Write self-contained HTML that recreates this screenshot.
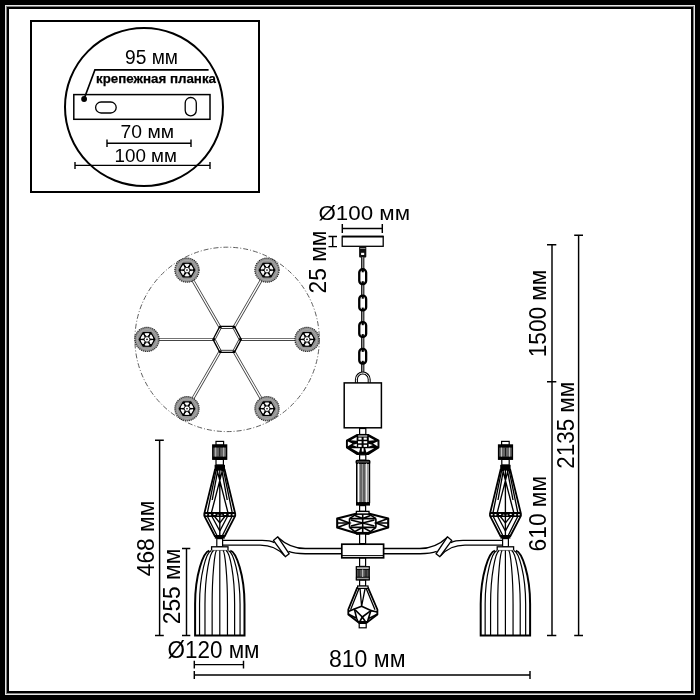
<!DOCTYPE html>
<html><head><meta charset="utf-8">
<style>
html,body{margin:0;padding:0;background:#fff;width:700px;height:700px;overflow:hidden}
svg{display:block;will-change:transform}
text{font-family:"Liberation Sans",sans-serif;fill:#000}
</style></head>
<body>
<svg width="700" height="700" viewBox="0 0 700 700">
<!-- frame -->
<rect x="0" y="0" width="700" height="700" fill="#000"/>
<rect x="5" y="5" width="690" height="690" fill="#e6e6e6"/>
<rect x="6" y="6" width="688" height="688" fill="#808080"/>
<rect x="7" y="7" width="686" height="686" fill="#000"/>
<rect x="9" y="9" width="682" height="682" fill="#fff"/>

<!-- inset box -->
<g id="inset">
<rect x="31" y="21" width="228" height="171" fill="none" stroke="#000" stroke-width="2"/>
<circle cx="144" cy="107" r="79" fill="none" stroke="#000" stroke-width="2"/>
<text x="125" y="63.6" font-size="19.5" textLength="53" lengthAdjust="spacingAndGlyphs">95 мм</text>
<polyline points="84,99.1 94.9,69.9 208.6,69.9" fill="none" stroke="#000" stroke-width="1.6"/>
<circle cx="84.1" cy="99" r="2.9" fill="#000"/>
<text x="96" y="83" font-size="13.5" font-weight="bold" stroke="#000" stroke-width="0.25" textLength="120" lengthAdjust="spacingAndGlyphs">крепежная планка</text>
<rect x="73.8" y="94.6" width="136.2" height="24.7" fill="none" stroke="#000" stroke-width="1.5"/>
<rect x="95.6" y="102" width="20.6" height="11" rx="5.5" fill="none" stroke="#000" stroke-width="1.3"/>
<rect x="185.2" y="97.5" width="11.1" height="18.3" rx="5.5" fill="none" stroke="#000" stroke-width="1.3"/>
<text x="120.5" y="137.9" font-size="19" textLength="53.5" lengthAdjust="spacingAndGlyphs">70 мм</text>
<path d="M107,143.3H191M107,139.6V147.1M191,139.6V147.1" stroke="#000" stroke-width="1.4" fill="none"/>
<text x="114.5" y="161.7" font-size="19" textLength="62.5" lengthAdjust="spacingAndGlyphs">100 мм</text>
<path d="M75,165.4H210M75,162V169M210,162V169" stroke="#000" stroke-width="1.4" fill="none"/>
</g>

<!-- plan view -->
<g id="plan">
<defs><g id="ros"><circle cx="0" cy="0" r="12.1" fill="#929292" stroke="#222" stroke-width="1.2" stroke-dasharray="1.1 0.9"/><circle cx="0" cy="0" r="9.8" fill="none" stroke="#aaa" stroke-width="0.9"/><polygon points="7.80,-0.00 3.90,-6.75 -3.90,-6.75 -7.80,-0.00 -3.90,6.75 3.90,6.75" fill="#000" stroke="#000" stroke-width="1.2" stroke-linejoin="round"/><polygon points="5.91,-1.04 5.02,-2.90 3.86,-4.60 2.60,-1.50" fill="#fff" stroke="#fff" stroke-width="0.9" stroke-linejoin="round"/><polygon points="2.05,-5.64 0.00,-5.80 -2.05,-5.64 0.00,-3.00" fill="#fff" stroke="#fff" stroke-width="0.9" stroke-linejoin="round"/><polygon points="-3.86,-4.60 -5.02,-2.90 -5.91,-1.04 -2.60,-1.50" fill="#fff" stroke="#fff" stroke-width="0.9" stroke-linejoin="round"/><polygon points="-5.91,1.04 -5.02,2.90 -3.86,4.60 -2.60,1.50" fill="#fff" stroke="#fff" stroke-width="0.9" stroke-linejoin="round"/><polygon points="-2.05,5.64 -0.00,5.80 2.05,5.64 -0.00,3.00" fill="#fff" stroke="#fff" stroke-width="0.9" stroke-linejoin="round"/><polygon points="3.86,4.60 5.02,2.90 5.91,1.04 2.60,1.50" fill="#fff" stroke="#fff" stroke-width="0.9" stroke-linejoin="round"/><circle cx="0" cy="0" r="2.8" fill="#fff" stroke="#000" stroke-width="0.8"/><circle cx="0" cy="0" r="0.8" fill="#000"/></g></defs>
<circle cx="227.1" cy="339.4" r="92.2" fill="none" stroke="#555" stroke-width="0.95" stroke-dasharray="5 2 1 2"/>
<path d="M241.00,339.40L296.00,339.40M234.00,327.28L261.50,279.64M220.00,327.28L192.50,279.64M213.00,339.40L158.00,339.40M220.00,351.52L192.50,399.16M234.00,351.52L261.50,399.16" stroke="#444" stroke-width="3.0" fill="none"/>
<path d="M241.00,339.40L296.00,339.40M234.00,327.28L261.50,279.64M220.00,327.28L192.50,279.64M213.00,339.40L158.00,339.40M220.00,351.52L192.50,399.16M234.00,351.52L261.50,399.16" stroke="#fff" stroke-width="1.3" fill="none"/>
<polygon points="241.20,339.40 234.40,326.40 219.80,326.40 213.00,339.40 219.80,352.40 234.40,352.40" fill="#fff" stroke="#000" stroke-width="1.3"/>
<polygon points="238.94,339.40 233.23,328.48 220.97,328.48 215.26,339.40 220.97,350.32 233.23,350.32" fill="#fff" stroke="#222" stroke-width="0.9"/>
<circle cx="240.21" cy="339.40" r="1.3" fill="#000"/>
<circle cx="233.89" cy="327.31" r="1.3" fill="#000"/>
<circle cx="220.31" cy="327.31" r="1.3" fill="#000"/>
<circle cx="213.99" cy="339.40" r="1.3" fill="#000"/>
<circle cx="220.31" cy="351.49" r="1.3" fill="#000"/>
<circle cx="233.89" cy="351.49" r="1.3" fill="#000"/>
<use href="#ros" transform="translate(307.00,339.40)"/>
<use href="#ros" transform="translate(267.00,270.12)"/>
<use href="#ros" transform="translate(187.00,270.12)"/>
<use href="#ros" transform="translate(147.00,339.40)"/>
<use href="#ros" transform="translate(187.00,408.68)"/>
<use href="#ros" transform="translate(267.00,408.68)"/>
</g>

<!-- central column -->
<g id="column" stroke="#000" fill="#fff">
<!-- canopy -->
<rect x="342.2" y="236.4" width="41" height="9.9" stroke-width="1.3"/>
<line x1="342" y1="236.7" x2="383.4" y2="236.7" stroke-width="1.8"/>
<!-- connector -->
<rect x="359.1" y="246.6" width="7.2" height="10.9" rx="1" fill="#111" stroke="none"/>
<rect x="361.1" y="252.8" width="3.1" height="2.2" fill="#fff" stroke="none"/>
<rect x="360.2" y="248" width="5.2" height="1" fill="#888" stroke="none"/>
<!-- chain rod -->
<line x1="362.7" y1="257" x2="362.7" y2="374" stroke="#222" stroke-width="3.4"/>
<line x1="362.7" y1="257" x2="362.7" y2="374" stroke="#999" stroke-width="1.2"/>
<!-- links -->
<g stroke-width="2.3">
<rect x="359.25" y="269.25" width="6.9" height="14.8" rx="3.3"/>
<rect x="359.25" y="295.65" width="6.9" height="14.8" rx="3.3"/>
<rect x="359.25" y="322.15" width="6.9" height="14.8" rx="3.3"/>
<rect x="359.25" y="348.85" width="6.9" height="14.8" rx="3.3"/>
</g>
<g fill="#000" stroke="none">
<rect x="361.7" y="269.70" width="2.1" height="2.6"/><rect x="361.7" y="281.20" width="2.1" height="2.6"/>
<rect x="361.7" y="296.10" width="2.1" height="2.6"/><rect x="361.7" y="307.60" width="2.1" height="2.6"/>
<rect x="361.7" y="322.60" width="2.1" height="2.6"/><rect x="361.7" y="334.10" width="2.1" height="2.6"/>
<rect x="361.7" y="349.30" width="2.1" height="2.6"/><rect x="361.7" y="360.80" width="2.1" height="2.6"/>
</g>
<!-- ring -->
<path d="M356.4,383V379.4A6.4,6.4 0 0 1 369.2,379.4V383" fill="none" stroke="#000" stroke-width="3"/>
<path d="M356.4,383V379.4A6.4,6.4 0 0 1 369.2,379.4V383" fill="none" stroke="#fff" stroke-width="1"/>
<!-- top rect -->
<rect x="344.2" y="382.9" width="37.2" height="44.9" stroke-width="1.5"/>
<!-- rod -->
<rect x="359.6" y="428.5" width="6.2" height="6" stroke-width="1.2"/>
<!-- crystal 1 -->
<polygon points="357.2,434.6 368.2,434.6 378.8,440.4 378.8,447.6 368.2,454.4 357.2,454.4 346.6,447.6 346.6,440.4" fill="#000" stroke-width="1.3" stroke-linejoin="round"/>
<g fill="#fff" stroke="none">
<rect x="358.4" y="437.6" width="3.2" height="2.1"/><rect x="363.6" y="437.6" width="3.2" height="2.1"/>
<rect x="358" y="441.2" width="3.6" height="2.1"/><rect x="363.6" y="441.2" width="3.6" height="2.1"/>
<rect x="358.2" y="444.8" width="3.4" height="2.1"/><rect x="363.6" y="444.8" width="3.4" height="2.1"/>
<polygon points="350.8,440.2 356.6,437 356.6,440.8"/><polygon points="374.6,440.2 368.8,437 368.8,440.8"/>
<polygon points="347.9,441.4 352.4,443.6 347.9,446.2"/><polygon points="377.5,441.4 373,443.6 377.5,446.2"/>
<polygon points="352.6,445 356.8,443.8 356.8,446.8"/><polygon points="372.8,445 368.6,443.8 368.6,446.8"/>
<polygon points="351.2,448.2 360.2,448.2 359,452.6"/><polygon points="374.2,448.2 365.2,448.2 366.4,452.6"/><rect x="361.8" y="448.2" width="1.8" height="3.4"/>
<rect x="358.2" y="435.5" width="9" height="1"/>
</g>
<!-- rod -->
<rect x="359.6" y="454.8" width="6.2" height="5.4" stroke-width="1.2"/>
<!-- tube -->
<rect x="356.3" y="460.4" width="13.4" height="3" rx="0.8" fill="#555" stroke="#000" stroke-width="1.5"/>
<rect x="356.6" y="463.4" width="13" height="39.2" fill="#9a9a9a" stroke="#000" stroke-width="1.2"/>
<g stroke-width="1" fill="none">
<line x1="358.5" y1="463.5" x2="358.5" y2="502.5" stroke="#fff"/>
<line x1="361" y1="463.5" x2="361" y2="502.5" stroke="#333"/>
<line x1="364" y1="463.5" x2="364" y2="502.5" stroke="#222"/>
<line x1="366.5" y1="463.5" x2="366.5" y2="502.5" stroke="#eee"/>
</g>
<rect x="356" y="502.4" width="14" height="3.2" fill="#000" stroke="none"/>
<!-- rod -->
<rect x="359.6" y="505.6" width="6" height="5.8" stroke-width="1.2"/>
<!-- crystal 2 -->
<polygon points="357,513.6 368.4,513.6 388.2,518.6 388.2,527.4 368.4,533.4 357,533.4 337.2,527.4 337.2,518.6" fill="#fff" stroke-width="2.1" stroke-linejoin="round"/>
<g fill="none" stroke="#000" stroke-width="1.6">
<path d="M349.5,518.6V527.4M375.9,518.6V527.4M337.2,523H349.5M375.9,523H388.2"/>
<path d="M337.2,518.6L349.5,523 337.2,527.4M388.2,518.6L375.9,523 388.2,527.4"/>
<path d="M349.5,518.6H375.9M349.5,527.4H375.9M362.7,513.6V533.4"/>
<path d="M351,520L362.7,523 351,526M374.4,520L362.7,523 374.4,526"/>
<path d="M357,513.6L349.5,518.6M368.4,513.6L375.9,518.6M357,533.4L349.5,527.4M368.4,533.4L375.9,527.4"/>
<path d="M355,515.5L362.7,518.6 370.4,515.5M355,531.5L362.7,527.4 370.4,531.5"/>
</g>
<rect x="356.4" y="511.4" width="12.6" height="2.6" fill="#fff" stroke="#000" stroke-width="1.3"/>
<rect x="356.4" y="532.4" width="12.6" height="1.8" fill="#000"/>
<!-- rod -->
<rect x="359.6" y="534" width="6" height="9.6" stroke-width="1.2"/>
<!-- hub -->
<rect x="341.8" y="544.2" width="41.8" height="13.6" stroke-width="1.7"/>
<line x1="341.8" y1="555.6" x2="383.6" y2="555.6" stroke-width="1"/>
<!-- rod -->
<rect x="359.6" y="558.2" width="6" height="8.2" stroke-width="1.2"/>
<!-- striped cylinder -->
<rect x="356.4" y="566.8" width="12.8" height="13" fill="#555" stroke="#000" stroke-width="1.3"/>
<rect x="356.4" y="566.8" width="12.8" height="2.6" fill="#ccc" stroke="#000" stroke-width="1"/>
<rect x="356.4" y="577.2" width="12.8" height="2.6" fill="#999" stroke="#000" stroke-width="1"/>
<g stroke-width="0.9"><line x1="359" y1="569.5" x2="359" y2="577" stroke="#111"/><line x1="362.7" y1="569.5" x2="362.7" y2="577" stroke="#ddd"/><line x1="366" y1="569.5" x2="366" y2="577" stroke="#111"/></g>
<!-- rod -->
<rect x="359.6" y="580.2" width="6" height="6" stroke-width="1.2"/>
<!-- pendant crystal -->
<polygon points="357.2,587.6 368,587.6 377.4,609.5 377.4,614.5 367.5,622 358,622 348.3,614.5 348.3,609.5" stroke-width="1.8" stroke-linejoin="round"/>
<g stroke-width="1.3" fill="none">
<path d="M359.2,588L350.6,609.8M366,588L375,609.8M360,588L361.6,606.3M365.2,588L361.6,606.3"/>
</g>
<g stroke-width="1.6" fill="none" stroke-linejoin="round">
<path d="M354.4,609.1L361.6,606.3 370.9,610.6 362.3,617Z"/>
<path d="M348.3,611.6L354.4,609.1M348.6,614.3L356.6,618.2M354.4,609.1L356.6,618.2 358.2,622M362.3,617L359.6,622M362.3,617L365.6,622M370.9,610.6L377.2,612M370.9,610.6L368.4,618.6 367.4,622M377.2,614.3L368.4,618.6"/>
</g>
<rect x="357.6" y="586" width="10.4" height="2.4" fill="#fff" stroke="#000" stroke-width="1.2"/>
<rect x="359.2" y="623.4" width="7" height="4.4" stroke-width="1.2"/>
<rect x="358" y="621.2" width="9.4" height="2.4" fill="#000" stroke="none"/>
</g>


<!-- arms & shades (right side; left side mirrored) -->
<defs>
<g id="side">
<!-- arm -->
<g fill="none" stroke="#000" stroke-width="1.35">
<path d="M383.6,548.5 H420 C430,548.5 439,545 447.4,537.2"/>
<path d="M383.6,553.7 H420 C428,553.7 433,552.8 436.7,551.4"/>
<path d="M450.8,542.6 Q455,540.3 463,540.3 H503"/>
<path d="M440.6,555.7 C447,548.5 454,545.1 465,545.1 H503"/>
<polygon points="447.4,536.8 451.8,540.4 439.9,556.7 436,553.8" fill="#fff" stroke-linejoin="round"/>
</g>
<!-- shade top assembly -->
<g stroke="#000" fill="#fff">
<rect x="501.6" y="441.4" width="7.6" height="3.8" stroke-width="1.2"/>
<rect x="498.6" y="445" width="13.8" height="14.2" fill="#666" stroke-width="1.4"/>
<rect x="498.6" y="445" width="13.8" height="2.6" fill="#000" stroke="none"/>
<rect x="498.6" y="456.6" width="13.8" height="2.6" fill="#000" stroke="none"/>
<g stroke-width="0.9"><line x1="501.5" y1="447.6" x2="501.5" y2="456.6" stroke="#ccc"/><line x1="505.5" y1="447.6" x2="505.5" y2="456.6" stroke="#111"/><line x1="509.5" y1="447.6" x2="509.5" y2="456.6" stroke="#ccc"/></g>
<rect x="501.8" y="459.4" width="7.4" height="5.6" stroke-width="1.2"/>
<polygon points="500.6,469.6 510.2,469.6 520.9,513.6 520.9,515.8 510.4,536 500.4,536 490,515.8 490,513.6" stroke-width="1.8"/>
<g stroke-width="1.35" fill="none">
<path d="M501.8,469.6L492.8,513.6M502.6,469.6L514,513.6M508.2,469.6L497,513.6M509,469.6L518,513.6M505.4,469.6V536M503.5,469.6L498,500M507.3,469.6L513,500"/>
<path d="M490,513.2H520.9M490,516H520.9M493,516L503,536M497.5,516L505.4,531M513.5,516L505.4,531M518,516L508,536M500,516L505.4,523 511,516"/>
</g>
<polygon points="490.6,512 520.2,512 521,513.6 521,515.8 520,517 490.8,517 489.8,515.8 489.8,513.6" fill="#000" stroke="none"/>
<g fill="#fff" stroke="none">
<ellipse cx="491.8" cy="514.8" rx="1.1" ry="0.7"/><ellipse cx="495.5" cy="514.8" rx="1.2" ry="0.7"/><ellipse cx="500.1" cy="514.4" rx="1.2" ry="0.7"/><ellipse cx="503.6" cy="515" rx="1" ry="0.6"/>
<ellipse cx="507.2" cy="515" rx="1" ry="0.6"/><ellipse cx="510.7" cy="514.4" rx="1.2" ry="0.7"/><ellipse cx="515.2" cy="514.8" rx="1.2" ry="0.7"/><ellipse cx="518.9" cy="514.8" rx="1.1" ry="0.7"/>
</g>
<rect x="500.2" y="464.8" width="10.4" height="4.9" fill="#000" stroke="none"/>
<rect x="500.4" y="535.6" width="10" height="3" fill="#000" stroke="none"/>
<rect x="502.6" y="538.6" width="5.8" height="8.2" stroke-width="1.2"/>
<rect x="497.2" y="546.8" width="16.4" height="3.8" stroke-width="1.3"/>
</g>
<!-- shade body -->
<g fill="none" stroke="#000">
<path d="M494.9,550.6 C489,552 480.7,575 480.7,604 V635.5 H530.1 V604 C530.1,575 522,552 515.9,550.6" fill="#fff" stroke-width="2"/>
<path d="M514.01,550.6 C518.85,552 525.65,575 525.65,604 V635.5 M496.79,550.6 C491.95,552 485.15,575 485.15,604 V635.5 M511.70,550.6 C515.24,552 520.22,575 520.22,604 V635.5 M499.10,550.6 C495.56,552 490.58,575 490.58,604 V635.5 M508.65,550.6 C510.48,552 513.06,575 513.06,604 V635.5 M502.14,550.6 C500.32,552 497.74,575 497.74,604 V635.5 M505.4,550.6 V635.5" stroke-width="1.2"/>
</g>
</g>
</defs>
<use href="#side"/>
<use href="#side" transform="translate(725.2,0) scale(-1,1)"/>

<!-- texts main -->
<text x="318.5" y="220" font-size="20" textLength="91.5" lengthAdjust="spacingAndGlyphs">Ø100 мм</text>
<text x="329" y="667.1" font-size="23" textLength="76.5" lengthAdjust="spacingAndGlyphs">810 мм</text>
<text x="167.5" y="658.4" font-size="23" textLength="92" lengthAdjust="spacingAndGlyphs">Ø120 мм</text>
<text transform="translate(325.7,293.5) rotate(-90)" font-size="23" textLength="63" lengthAdjust="spacingAndGlyphs">25 мм</text>
<text transform="translate(545.6,357.2) rotate(-90)" font-size="23" textLength="87.5" lengthAdjust="spacingAndGlyphs">1500 мм</text>
<text transform="translate(574.3,468.8) rotate(-90)" font-size="23" textLength="87" lengthAdjust="spacingAndGlyphs">2135 мм</text>
<text transform="translate(545.6,551.4) rotate(-90)" font-size="23" textLength="75.5" lengthAdjust="spacingAndGlyphs">610 мм</text>
<text transform="translate(153.8,576.2) rotate(-90)" font-size="23" textLength="75.5" lengthAdjust="spacingAndGlyphs">468 мм</text>
<text transform="translate(180.2,624.2) rotate(-90)" font-size="23" textLength="75.5" lengthAdjust="spacingAndGlyphs">255 мм</text>

<!-- dimension lines main -->
<g stroke="#000" stroke-width="1.45" fill="none">
<path d="M342.3,228.5H382.3M342.3,224V233M382.3,224V233"/>
<path d="M332.7,236.4V246.6M328.5,236.4H337M328.5,246.6H337"/>
<path d="M552,244.7V635.5M547,244.7H556.3M547,381.8H556.3M547,635.5H556.3"/>
<path d="M578.6,235.3V635.5M574.2,235.3H583M574.2,635.5H583"/>
<path d="M159.6,440.2V635.5M155,440.2H163.8M155,635.5H163.8"/>
<path d="M186.5,548.4V635.5M182,548.4H190.3M182,635.5H190.3"/>
<path d="M194.3,664.6H243.5M194.3,660.8V668.6M243.5,660.8V668.6"/>
<path d="M194.3,675H530M194.3,671V679M530,671V679"/>
</g>
</svg>
</body></html>
